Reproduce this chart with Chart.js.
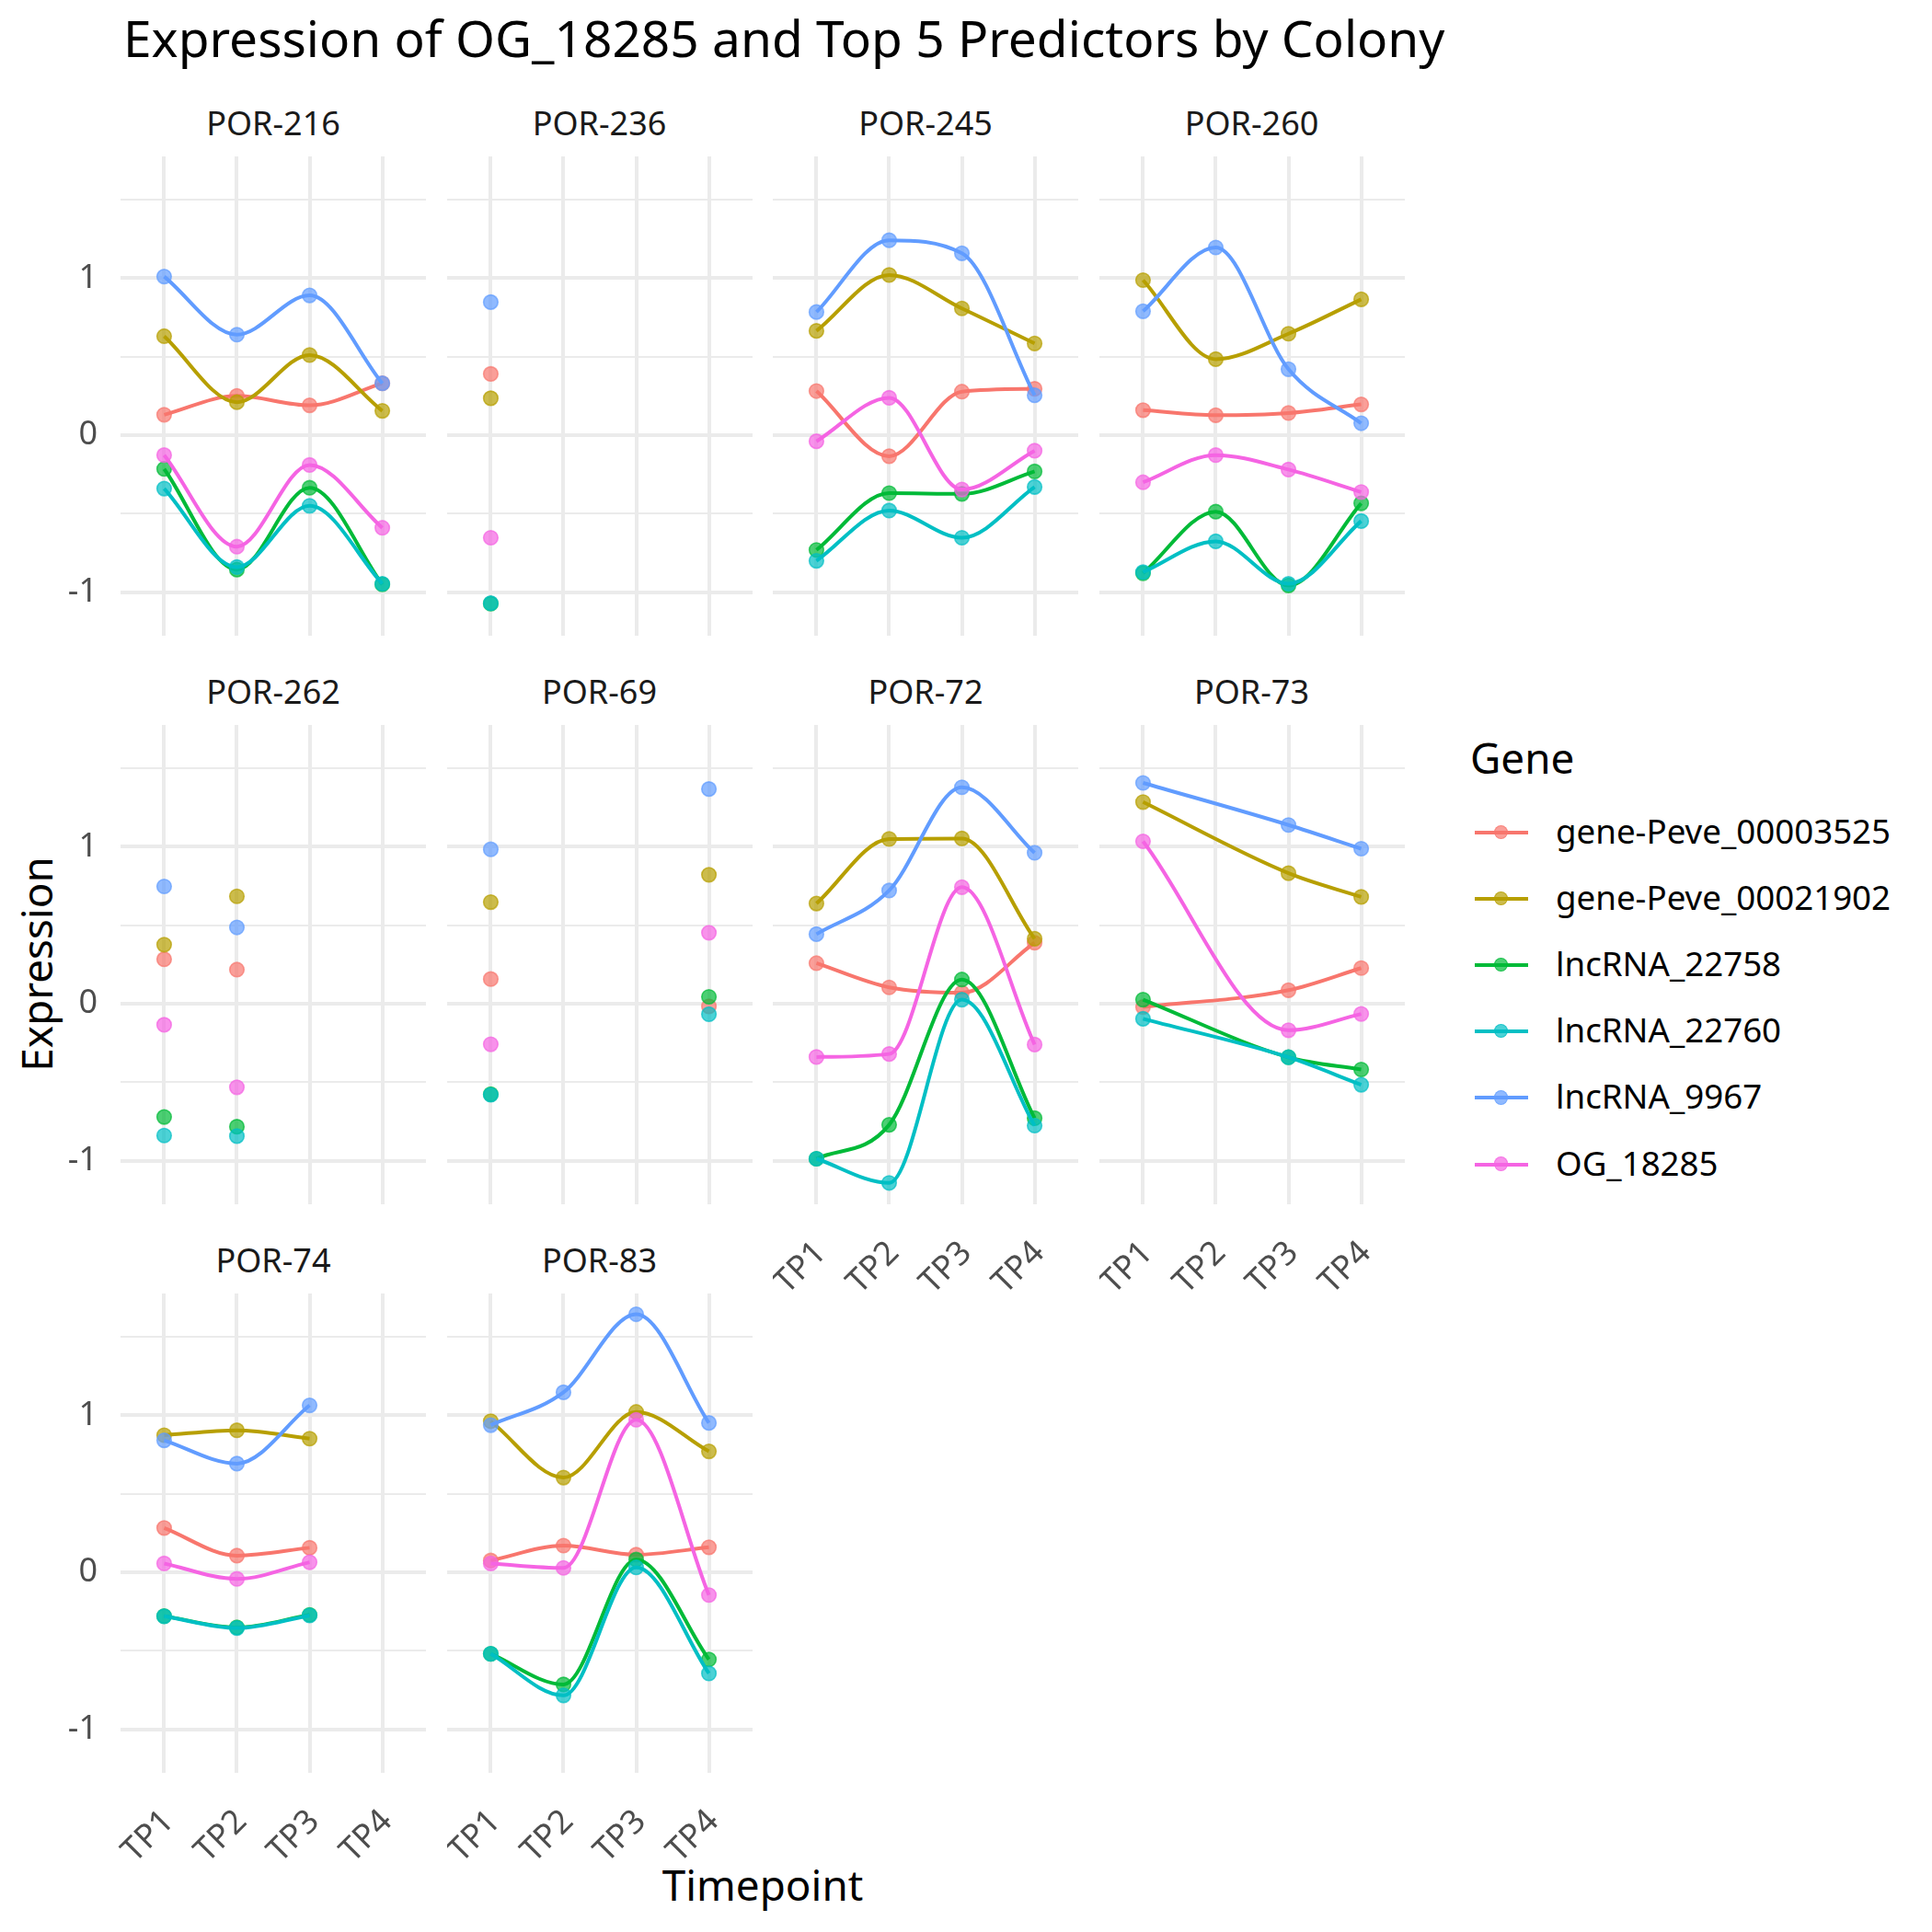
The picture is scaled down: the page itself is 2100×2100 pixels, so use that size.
<!DOCTYPE html>
<html lang="en">
<head>
<meta charset="UTF-8">
<title>Expression of OG_18285 and Top 5 Predictors by Colony</title>
<script src="https://cdn.jsdelivr.net/npm/chart.js@4.4.1/dist/chart.umd.min.js"></script>
<style>
  body { margin: 0; background: #fff; font-family: 'Noto Sans', sans-serif; }
  #page { position: relative; width: 2100px; height: 2100px; overflow: hidden; }
  #page canvas { position: absolute; }
  .txt { position: absolute; white-space: nowrap; line-height: 1; }
  .strip { font-size: 36px; color: #1a1a1a; transform: translate(-50%, -50%); }
  .key { position: absolute; }
</style>
</head>
<body>
<div id="page">
  <div class="txt" id="title" style="left:134px; top:13px; font-size:55px; color:#000;">Expression of OG_18285 and Top 5 Predictors by Colony</div>
  <div class="txt" style="left:40px; top:1048px; font-size:45.8px; color:#000; transform: translate(-50%, -50%) rotate(-90deg);">Expression</div>
  <div class="txt" style="left:829px; top:2049px; font-size:45.8px; color:#000; transform: translate(-50%, -50%);">Timepoint</div>
  <div id="legend"></div>
</div>

<script>
// categories
const timepoints = ['TP1', 'TP2', 'TP3', 'TP4'];
const genes = ['gene-Peve_00003525', 'gene-Peve_00021902', 'lncRNA_22758', 'lncRNA_22760', 'lncRNA_9967', 'OG_18285'];
const colonies = ['POR-216', 'POR-236', 'POR-245', 'POR-260', 'POR-262', 'POR-69', 'POR-72', 'POR-73', 'POR-74', 'POR-83'];
const yTicks = [-1, -0.5, 0, 0.5, 1, 1.5];

// expression per colony: one row per gene (same order as genes), one value per timepoint
const por216 = [
  [0.13, 0.25, 0.19, 0.33],
  [0.63, 0.21, 0.51, 0.155],
  [-0.215, -0.856, -0.335, -0.95],
  [-0.34, -0.84, -0.45, -0.946],
  [1.01, 0.64, 0.89, 0.33],
  [-0.127, -0.71, -0.19, -0.59]
];
const por236 = [
  [0.39, null, null, null],
  [0.235, null, null, null],
  [-1.073, null, null, null],
  [-1.07, null, null, null],
  [0.847, null, null, null],
  [-0.653, null, null, null]
];
const por245 = [
  [0.281, -0.134, 0.277, 0.295],
  [0.664, 1.02, 0.807, 0.584],
  [-0.731, -0.369, -0.374, -0.231],
  [-0.80, -0.48, -0.653, -0.33],
  [0.784, 1.241, 1.158, 0.254],
  [-0.039, 0.238, -0.346, -0.099]
];
const por260 = [
  [0.159, 0.127, 0.141, 0.196],
  [0.987, 0.484, 0.646, 0.865],
  [-0.879, -0.487, -0.957, -0.434],
  [-0.872, -0.676, -0.946, -0.547],
  [0.789, 1.195, 0.42, 0.076],
  [-0.30, -0.127, -0.219, -0.362]
];
const por262 = [
  [0.283, 0.217, null, null],
  [0.376, 0.684, null, null],
  [-0.721, -0.783, null, null],
  [-0.839, -0.843, null, null],
  [0.747, 0.486, null, null],
  [-0.134, -0.532, null, null]
];
const por69 = [
  [0.157, null, null, -0.017],
  [0.647, null, null, 0.821],
  [-0.576, null, null, 0.044],
  [-0.58, null, null, -0.067],
  [0.983, null, null, 1.367],
  [-0.258, null, null, 0.452]
];
const por72 = [
  [0.258, 0.104, 0.07, 0.388],
  [0.638, 1.049, 1.052, 0.414],
  [-0.987, -0.771, 0.154, -0.729],
  [-0.987, -1.141, 0.026, -0.776],
  [0.443, 0.721, 1.378, 0.961],
  [-0.339, -0.32, 0.742, -0.26]
];
const por73 = [
  [-0.021, null, 0.086, 0.227],
  [1.284, null, 0.831, 0.68],
  [0.026, null, -0.341, -0.419],
  [-0.096, null, -0.341, -0.516],
  [1.406, null, 1.138, 0.987],
  [1.034, null, -0.169, -0.065]
];
const por74 = [
  [0.282, 0.106, 0.156, null],
  [0.873, 0.904, 0.851, null],
  [-0.279, -0.351, -0.271, null],
  [-0.28, -0.355, -0.275, null],
  [0.84, 0.692, 1.063, null],
  [0.056, -0.042, 0.064, null]
];
const por83 = [
  [0.075, 0.17, 0.112, 0.159],
  [0.962, 0.603, 1.021, 0.77],
  [-0.519, -0.714, 0.081, -0.555],
  [-0.519, -0.784, 0.031, -0.644],
  [0.937, 1.146, 1.643, 0.951],
  [0.056, 0.028, 0.971, -0.145]
];
const colonyData = [por216, por236, por245, por260, por262, por69, por72, por73, por74, por83];

// look
const geneColors = ['#F8766D', '#B79F00', '#00BA38', '#00BFC4', '#619CFF', '#F564E3'];
const gridColor = '#EBEBEB';
const tickFont = { family: 'Noto Sans', size: 36 };

// facet layout (4 columns)
const colLeft = [131, 485.5, 840, 1194.5];
const rowTop = [170, 788, 1406];
const panelW = 332, panelH = 521;
const yMin = -1.277, yMax = 1.775;
const page = document.getElementById('page');

// keep every panel the same size: no extra room for overflowing tick labels
function noPadding(s) {
    s.paddingTop = 0; s.paddingBottom = 0; s.paddingLeft = 0; s.paddingRight = 0;
}

colonies.forEach(function (name, k) {
    var col = k % 4, row = Math.floor(k / 4);
    var showY = col === 0;
    var showX = k >= 6;   // bottom panel of each column
    var padL = showY ? 90 : 0;
    var padB = showX ? 110 : 0;

    var strip = document.createElement('div');
    strip.className = 'txt strip';
    strip.style.left = (colLeft[col] + panelW / 2) + 'px';
    strip.style.top = (rowTop[row] - 36) + 'px';
    strip.textContent = name;
    page.appendChild(strip);

    var cv = document.createElement('canvas');
    cv.width = padL + panelW;
    cv.height = panelH + padB;
    cv.style.left = (colLeft[col] - padL) + 'px';
    cv.style.top = rowTop[row] + 'px';
    page.appendChild(cv);

    var rows = colonyData[k];
    var datasets = rows.map(function (vals, g) {
        var pts = [];
        vals.forEach(function (v, t) { if (v !== null) pts.push({ x: t + 1, y: v }); });
        return {
            label: genes[g],
            data: pts,
            order: genes.length - g,
            showLine: pts.length >= 3,
            borderColor: geneColors[g],
            borderWidth: 4,
            cubicInterpolationMode: 'monotone',
            pointRadius: 7.8,
            pointBorderWidth: 1.6,
            pointBackgroundColor: geneColors[g] + 'B3',
            pointBorderColor: geneColors[g] + 'B3',
            clip: false,
            fill: false
        };
    });

    new Chart(cv.getContext('2d'), {
        type: 'line',
        data: { datasets: datasets },
        options: {
            responsive: false,
            animation: false,
            events: [],
            spanGaps: true,
            layout: { padding: 0, autoPadding: false },
            plugins: { legend: { display: false }, tooltip: { enabled: false } },
            scales: {
                x: {
                    type: 'linear',
                    min: 0.4,
                    max: 4.6,
                    afterBuildTicks: function (s) { s.ticks = timepoints.map(function (t, i) { return { value: i + 1 }; }); },
                    afterFit: function (s) { s.height = padB; noPadding(s); },
                    border: { display: false },
                    grid: { color: gridColor, lineWidth: 4, drawTicks: false },
                    ticks: {
                        display: showX,
                        autoSkip: false,
                        minRotation: 45,
                        maxRotation: 45,
                        padding: 32,
                        labelOffset: 5,
                        color: '#4D4D4D',
                        font: tickFont,
                        callback: function (v) { return timepoints[v - 1]; }
                    }
                },
                y: {
                    min: yMin,
                    max: yMax,
                    afterBuildTicks: function (s) { s.ticks = yTicks.map(function (v) { return { value: v }; }); },
                    afterFit: function (s) { s.width = padL; noPadding(s); },
                    border: { display: false },
                    grid: {
                        color: gridColor,
                        drawTicks: false,
                        lineWidth: function (c) { return Number.isInteger(c.tick.value) ? 4 : 2; }
                    },
                    ticks: {
                        display: showY,
                        padding: 25,
                        color: '#4D4D4D',
                        font: tickFont,
                        callback: function (v) { return Number.isInteger(v) ? String(v) : ''; }
                    }
                }
            }
        }
    });
});

// legend
var legend = document.getElementById('legend');
var lt = document.createElement('div');
lt.className = 'txt';
lt.style.cssText = 'left:1598px; top:801px; font-size:45.8px; color:#000;';
lt.textContent = 'Gene';
legend.appendChild(lt);
genes.forEach(function (g, i) {
    var cy = 905 + i * 72.1;
    var line = document.createElement('div');
    line.className = 'key';
    line.style.cssText = 'left:1603px; top:' + (cy - 2) + 'px; width:58px; height:4px; background:' + geneColors[i] + ';';
    legend.appendChild(line);
    var dot = document.createElement('div');
    dot.className = 'key';
    dot.style.cssText = 'left:' + (1632 - 8.4) + 'px; top:' + (cy - 8.4) + 'px; width:13.6px; height:13.6px; border-radius:50%; background:' + geneColors[i] + 'B3; border:1.6px solid ' + geneColors[i] + 'B3;';
    legend.appendChild(dot);
    var lab = document.createElement('div');
    lab.className = 'txt';
    lab.style.cssText = 'left:1691px; top:' + (cy - 20) + 'px; font-size:36.7px; color:#000;';
    lab.textContent = g;
    legend.appendChild(lab);
});
</script>
</body>
</html>
